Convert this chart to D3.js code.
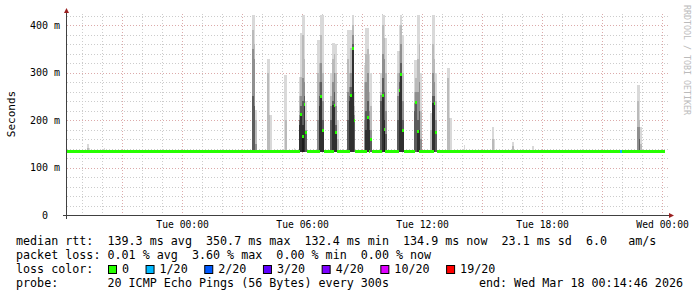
<!DOCTYPE html>
<html>
<head>
<meta charset="utf-8">
<script src="https://cdn.jsdelivr.net/npm/d3@7"></script>
<style>
body { margin: 0; background: #fff; }
text { font-family: "DejaVu Sans Mono", monospace; white-space: pre; }
</style>
</head>
<body>
<div id="graph"></div>
<script>
// hourly median rtt (ms) of the quiet baseline, Mon 18h .. Wed 00h
var baseMedian = [135, 135, 134.5, 134, 134.5, 134.5,
    133.5, 133.5, 134.5, 135, 134.5, 134.5, 134, 133.5, 134, 134, 134.5, 135,
    135, 134.5, 134.5, 134.5, 134.5, 134, 134, 134, 133, 133, 134.5, 134.5,
    134.5];

// samples where the smoke rises, their median (null = baseline) and band tops (ms)
var smokeTimes = ["Mon 19:15", "Mon 19:20", "Mon 20:05",
    "Tue 03:30", "Tue 03:35", "Tue 03:40", "Tue 04:15", "Tue 04:20", "Tue 04:25",
    "Tue 05:05", "Tue 05:10", "Tue 05:35",
    "Tue 05:50", "Tue 05:55", "Tue 06:00", "Tue 06:05", "Tue 06:10",
    "Tue 06:45", "Tue 06:50", "Tue 06:55", "Tue 07:00",
    "Tue 07:25", "Tue 07:30", "Tue 07:35", "Tue 07:40", "Tue 07:45",
    "Tue 08:15", "Tue 08:20", "Tue 08:25", "Tue 08:30", "Tue 08:35",
    "Tue 09:05", "Tue 09:10", "Tue 09:15", "Tue 09:20", "Tue 09:25",
    "Tue 09:55", "Tue 10:00", "Tue 10:05", "Tue 10:10",
    "Tue 10:45", "Tue 10:50", "Tue 10:55", "Tue 11:00",
    "Tue 11:35", "Tue 11:40", "Tue 11:45", "Tue 11:50", "Tue 11:55",
    "Tue 12:25", "Tue 12:30", "Tue 12:35", "Tue 12:40",
    "Tue 13:15", "Tue 13:20", "Tue 13:25", "Tue 14:05",
    "Tue 15:30", "Tue 15:35", "Tue 16:30", "Tue 17:30",
    "Tue 22:45", "Tue 22:50", "Tue 22:55"];
var smokeMedian = [null, null, null,
    null, null, null, null, null, null,
    null, null, null,
    null, 212, 165, 234, 173,
    null, null, 251, 179,
    null, null, 232, 174, null,
    null, null, 252, 352, 200,
    null, null, 205, null, 160,
    null, 253, 181, null,
    null, 262, 297, 178,
    null, 237, 176, null, null,
    null, null, 236, 175,
    null, null, null, null,
    null, null, null, null,
    null, null, null];
var smokeBands = [[150, 142], [142], [142],
    [422, 390, 350, 250], [422, 360, 330, 230], [221, 200, 150],
    [330, 300], [330, 211], [211],
    [295], [295, 200], [142],
    [292, 250, 212, 200, 190], [384, 292, 250, 230, 212], [422, 380, 290, 240, 190, 165],
    [422, 330, 280, 250, 234], [240, 200, 180, 173],
    [369, 300, 200], [369, 320, 280, 250, 230], [422, 380, 320, 280, 251], [422, 300, 240, 200, 179],
    [300, 250, 230, 200], [363, 330, 280, 240, 232], [363, 340, 300, 260, 232],
    [360, 300, 230, 190, 174], [200, 160],
    [390, 330, 260, 200], [390, 300, 270, 252, 240], [390, 352, 300, 270, 252],
    [422, 400, 380, 360, 352], [260, 230, 210, 200],
    [316, 280, 200], [395, 340, 280, 220, 180], [395, 350, 300, 240, 205],
    [340, 260, 220, 200, 180], [300, 230, 180, 160],
    [300, 260, 253, 240], [422, 400, 340, 290, 253], [422, 373, 330, 260, 200, 181],
    [373, 300, 220, 170],
    [345, 300, 250, 200], [400, 345, 300, 280, 262], [422, 400, 360, 320, 297],
    [380, 300, 240, 200, 178],
    [327, 260, 237, 220], [327, 290, 260, 237], [422, 330, 260, 200, 176],
    [422, 360, 280, 220, 180], [300, 220, 160],
    [215, 180], [422, 360, 300, 250, 236], [422, 330, 280, 250, 236], [300, 240, 200, 175],
    [310, 290], [310, 204], [204], [147],
    [186, 160], [160], [155, 145], [146],
    [274, 240, 186], [274, 200, 186, 160], [186, 150]];

// samples with packet loss
var lossTimes = ["Tue 21:55"];
var lossCounts = [1];

var lossLabels = ["0", "1/20", "2/20", "3/20", "4/20", "10/20", "19/20"];
var lossLevels = [0, 1, 2, 3, 4, 10, 19];
var lossColors = ["#26ff00", "#00b8ff", "#0059ff", "#5e00ff", "#7e00ff", "#dd00ff", "#ff0000"];

var yTicks = [0, 100, 200, 300, 400];
var xTickTimes = ["Tue 00:00", "Tue 06:00", "Tue 12:00", "Tue 18:00", "Wed 00:00"];

var rttMin = 132.4;
var legendRtt = "median rtt:  139.3 ms avg  350.7 ms max  132.4 ms min  134.9 ms now  23.1 ms sd  6.0   am/s";
var legendLoss = "packet loss: 0.01 % avg  3.60 % max  0.00 % min  0.00 % now";
var legendProbe = "probe:       20 ICMP Echo Pings (56 Bytes) every 300s";
var legendEnd = "end: Wed Mar 18 00:14:46 2026";

var shades = ["#d9d9d9", "#bababa", "#8f8f8f", "#5c5c5c", "#303030", "#1c1c1c"];

function at(s) {
    var days = { Mon: 16, Tue: 17, Wed: 18 };
    var p = s.split(" ");
    var hm = p[1].split(":").map(Number);
    return new Date(2026, 2, days[p[0]], hm[0], hm[1], hm[2] || 0);
}

var width = 697;
var height = 297;

var svg = d3.select('#graph')
    .append('svg')
    .attr('width', width)
    .attr('height', height);

svg.append('rect').attr('width', width).attr('height', height).attr('fill', '#fff');

var x = d3.scaleTime()
    .domain([at("Mon 18:14:46"), at("Wed 00:14:46")])
    .range([67, 667]);
var y = d3.scaleLinear()
    .domain([0, 424])
    .range([215, 14]);

// grid
var grid = svg.append('g').attr('shape-rendering', 'crispEdges');
var hours = d3.timeHour.range(x.domain()[0], x.domain()[1]);
hours.forEach(function (h) {
    var major = h.getHours() % 3 === 0;
    grid.append('line')
        .attr('x1', Math.round(x(h)) + 0.5).attr('x2', Math.round(x(h)) + 0.5)
        .attr('y1', 14).attr('y2', 215)
        .attr('stroke', major ? '#dcaaaa' : '#cccccc')
        .attr('stroke-dasharray', '1,2');
});
d3.range(20, 430, 20).forEach(function (v) {
    var major = v % 100 === 0;
    grid.append('line')
        .attr('x1', 67).attr('x2', 668)
        .attr('y1', Math.round(y(v)) + 0.5).attr('y2', Math.round(y(v)) + 0.5)
        .attr('stroke', major ? '#dcaaaa' : '#cccccc')
        .attr('stroke-dasharray', '1,2');
});

// samples
var step = 5 * 60 * 1000;
var sampleTimes = d3.timeMinute.every(5).range(at("Mon 18:15"), at("Wed 00:10"));
var baseStart = at("Mon 18:00");
var smokeIndex = {};
smokeTimes.forEach(function (s, i) { smokeIndex[+at(s)] = i; });
var lossIndex = {};
lossTimes.forEach(function (s, i) { lossIndex[+at(s)] = lossCounts[i]; });

var samples = sampleTimes.map(function (t) {
    var i = smokeIndex[+t];
    var med = baseMedian[Math.floor((t - baseStart) / 3600000)];
    if (i !== undefined && smokeMedian[i] !== null) med = smokeMedian[i];
    var loss = lossIndex[+t] || 0;
    var li = 0;
    lossLevels.forEach(function (l, k) { if (loss >= l) li = k; });
    return { t: t, med: med, bands: i !== undefined ? smokeBands[i] : [], color: lossColors[li] };
});

// smoke
var smoke = svg.append('g').attr('shape-rendering', 'crispEdges');
samples.forEach(function (d) {
    var x0 = x(d.t), x1 = x(new Date(+d.t + step));
    d.bands.forEach(function (v, k) {
        smoke.append('rect')
            .attr('x', x0).attr('width', x1 - x0)
            .attr('y', y(v)).attr('height', y(rttMin) - y(v))
            .attr('fill', shades[k]);
    });
});

// median
svg.append('g')
    .attr('shape-rendering', 'crispEdges')
    .selectAll('rect')
    .data(samples)
    .enter()
    .append('rect')
    .attr('x', function (d) { return x(d.t); })
    .attr('width', function (d) { return x(new Date(+d.t + step)) - x(d.t); })
    .attr('y', function (d) { return y(d.med) - 1.5; })
    .attr('height', 3)
    .attr('fill', function (d) { return d.color; });

// axes
var yAxis = d3.axisLeft(y)
    .tickValues(yTicks)
    .tickSize(0)
    .tickPadding(7)
    .tickFormat(function (v) { return v === 0 ? "0\u00a0\u00a0" : v + " m"; });
var gy = svg.append('g').attr('transform', 'translate(67,0)').call(yAxis);
gy.select('.domain').remove();
gy.selectAll('text').attr('font-family', 'DejaVu Sans Mono').attr('font-size', '10px').attr('fill', '#000');

var xAxis = d3.axisBottom(x)
    .tickValues(xTickTimes.map(at))
    .tickSize(0)
    .tickPadding(6)
    .tickFormat(d3.timeFormat("%a %H:%M"));
var gx = svg.append('g').attr('transform', 'translate(0,215)').call(xAxis);
gx.select('.domain').remove();
gx.selectAll('text').attr('font-family', 'DejaVu Sans Mono').attr('font-size', '9.7px').attr('fill', '#000');

svg.append('line').attr('x1', 66.5).attr('x2', 66.5).attr('y1', 219).attr('y2', 12)
    .attr('stroke', '#404040');
svg.append('line').attr('x1', 63).attr('x2', 669).attr('y1', 215.5).attr('y2', 215.5)
    .attr('stroke', '#404040');
svg.append('path').attr('d', 'M64,13L69,13L66.5,8Z').attr('fill', '#9a2020');
svg.append('path').attr('d', 'M669,213L669,218L674,215.5Z').attr('fill', '#9a2020');

svg.append('text')
    .attr('transform', 'translate(15,114) rotate(-90)')
    .attr('text-anchor', 'middle')
    .attr('font-size', '11px')
    .text("Seconds");

svg.append('text')
    .attr('transform', 'translate(683.5,5) rotate(90)')
    .attr('font-size', '8.3px')
    .attr('fill', '#bbbbbb')
    .text("RRDTOOL / TOBI OETIKER");

// legend
var legend = svg.append('g').attr('font-size', '11.7px').attr('fill', '#000');
legend.append('text').attr('x', 16).attr('y', 245).text(legendRtt);
legend.append('text').attr('x', 16).attr('y', 259).text(legendLoss);
legend.append('text').attr('x', 16).attr('y', 273).text("loss color:");
var bx = 108;
lossLabels.forEach(function (l, i) {
    legend.append('rect')
        .attr('x', bx + 0.5).attr('y', 265.5)
        .attr('width', 8).attr('height', 8)
        .attr('fill', lossColors[i])
        .attr('stroke', '#000');
    legend.append('text').attr('x', bx + 14).attr('y', 273).text(l);
    bx += 14 + l.length * 7.05 + 16.5;
});
legend.append('text').attr('x', 16).attr('y', 287).text(legendProbe);
legend.append('text').attr('x', 683).attr('y', 287).attr('text-anchor', 'end').text(legendEnd);
</script>
</body>
</html>
